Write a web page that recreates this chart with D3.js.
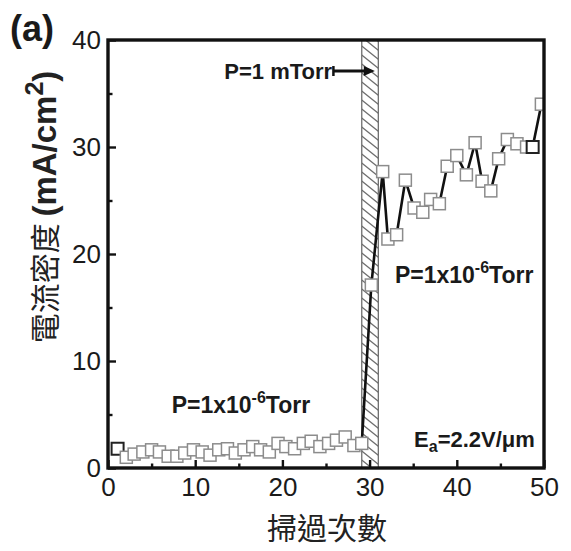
<!DOCTYPE html>
<html>
<head>
<meta charset="utf-8">
<script src="https://cdn.jsdelivr.net/npm/d3@7"></script>
<style>
  html, body { margin: 0; padding: 0; background: #fff; }
  svg { display: block; }
</style>
</head>
<body>
<svg id="chart" width="571" height="551"></svg>
<script>
// ---- data ----
const sweepX = [1.1, 2.1, 3.0, 4.0, 5.0, 5.9, 6.9, 7.9, 8.8, 9.8, 10.8, 11.7, 12.7, 13.7, 14.6,
  15.6, 16.6, 17.5, 18.5, 19.5, 20.4, 21.4, 22.4, 23.3, 24.3, 25.3, 26.2, 27.2, 28.2, 29.1,
  30.2, 31.5, 32.1, 33.1, 34.1, 35.1, 36.1, 37.0, 38.0, 38.9, 40.0, 41.1, 42.1, 42.9, 43.9,
  44.8, 45.8, 46.9, 48.0, 48.7, 49.7];
const currentDensity = [1.8, 1.0, 1.3, 1.5, 1.7, 1.5, 1.1, 1.1, 1.4, 1.7, 1.5, 1.2, 1.7, 1.8, 1.4,
  1.7, 2.0, 1.7, 1.5, 2.3, 2.0, 1.8, 2.3, 2.5, 2.0, 2.3, 2.6, 2.9, 2.1, 2.3,
  17.1, 27.7, 21.4, 21.8, 26.9, 24.3, 23.9, 25.1, 24.7, 28.2, 29.2, 27.4, 30.4, 26.8, 25.9,
  28.9, 30.7, 30.3, 30.0, 30.0, 34.0];
const xMajorTicks = [0, 10, 20, 30, 40, 50];
const xMinorTicks = [5, 15, 25, 35, 45];
const yMajorTicks = [0, 10, 20, 30, 40];
const yMinorTicks = [5, 15, 25, 35];
const xDomain = [0, 50];
const yDomain = [0, 40];
const ventBand = [29.1, 31.0];           // P = 1 mTorr interval (sweep number)
const panelLabel = "(a)";
const xTitle = "掃過次數";
const yTitleCJK = "電流密度";
const yTitleUnit = ["(mA/cm", "2", ")"];
const ventLabel = "P=1 mTorr";
const lowLabel = ["P=1x10", "-6", "Torr"];
const fieldLabel = ["E", "a", "=2.2V/\u03bcm"];

// ---- layout ----
const svg = d3.select("#chart");
const M = { left: 108, right: 544, top: 40, bottom: 468 };
const x = d3.scaleLinear().domain(xDomain).range([M.left, M.right]);
const y = d3.scaleLinear().domain(yDomain).range([M.bottom, M.top]);
const LATIN = "'Liberation Sans', Arial, Helvetica, sans-serif";
const CJK = "'Noto Sans CJK TC', 'Noto Sans CJK SC', sans-serif";

svg.append("rect").attr("width", 571).attr("height", 551).attr("fill", "#fff");

const defs = svg.append("defs");
defs.append("clipPath").attr("id", "plotclip").append("rect")
  .attr("x", M.left).attr("y", M.top).attr("width", M.right - M.left).attr("height", M.bottom - M.top);
const bx0 = x(ventBand[0]), bx1 = x(ventBand[1]);
defs.append("clipPath").attr("id", "bandclip").append("rect")
  .attr("x", bx0).attr("y", M.top).attr("width", bx1 - bx0).attr("height", M.bottom - M.top);

// ---- hatched band ----
const band = svg.append("g");
const hatch = band.append("g").attr("clip-path", "url(#bandclip)");
const bw = bx1 - bx0;
for (let yy = M.top - 30; yy < M.bottom + 10; yy += 9) {
  hatch.append("line")
    .attr("x1", bx0).attr("y1", yy).attr("x2", bx1).attr("y2", yy + bw * 0.8)
    .attr("stroke", "#6e6e6e").attr("stroke-width", 1.3);
}
band.append("rect").attr("x", bx0).attr("y", M.top).attr("width", bw).attr("height", M.bottom - M.top)
  .attr("fill", "none").attr("stroke", "#6e6e6e").attr("stroke-width", 1.3);

// ---- data line & squares ----
const pts = sweepX.map((v, i) => ({ x: v, y: currentDensity[i], i }));
const plot = svg.append("g").attr("clip-path", "url(#plotclip)");
plot.append("path").datum(pts)
  .attr("d", d3.line().x(d => x(d.x)).y(d => y(d.y)))
  .attr("fill", "none").attr("stroke", "#111").attr("stroke-width", 2.6);
const S = 12;
plot.selectAll("rect.pt").data(pts).join("rect").attr("class", "pt")
  .attr("x", d => x(d.x) - S / 2).attr("y", d => y(d.y) - S / 2)
  .attr("width", S).attr("height", S)
  .attr("fill", "#fff")
  .attr("stroke", d => (d.i === 0 || d.i === pts.length - 2) ? "#222" : "#8c8c8c")
  .attr("stroke-width", d => (d.i === 0 || d.i === pts.length - 2) ? 2 : 1.5);

// ---- axes ----
const axW = 3.4;
const gx = svg.append("g").attr("transform", `translate(0,${M.bottom})`)
  .call(d3.axisBottom(x).tickValues(xMajorTicks).tickSize(-8).tickPadding(10).tickFormat(d3.format("d")));
svg.append("g").attr("transform", `translate(0,${M.bottom})`)
  .call(d3.axisBottom(x).tickValues(xMinorTicks).tickSize(-4.5).tickFormat(""))
  .call(g => g.select(".domain").remove());
const gy = svg.append("g").attr("transform", `translate(${M.left},0)`)
  .call(d3.axisLeft(y).tickValues(yMajorTicks).tickSize(-8).tickPadding(7).tickFormat(d3.format("d")));
svg.append("g").attr("transform", `translate(${M.left},0)`)
  .call(d3.axisLeft(y).tickValues(yMinorTicks).tickSize(-4.5).tickFormat(""))
  .call(g => g.select(".domain").remove());
svg.selectAll(".tick line").attr("stroke", "#111").attr("stroke-width", 2.4);
svg.selectAll(".domain").remove();
svg.selectAll(".tick text").attr("font-family", LATIN).attr("font-size", 26).attr("fill", "#1a1a1a");
gx.selectAll(".tick text").attr("dy", "0.7em");

// frame
svg.append("rect").attr("x", M.left).attr("y", M.top).attr("width", M.right - M.left).attr("height", M.bottom - M.top)
  .attr("fill", "none").attr("stroke", "#111").attr("stroke-width", axW);

// ---- titles ----
svg.append("text").attr("x", 10).attr("y", 41)
  .attr("font-family", LATIN).attr("font-weight", "bold").attr("font-size", 36).attr("fill", "#1a1a1a")
  .text(panelLabel);

svg.append("text").attr("x", (M.left + M.right) / 2 + 1).attr("y", 539)
  .attr("text-anchor", "middle").attr("font-family", CJK).attr("font-size", 30).attr("fill", "#222")
  .text(xTitle);

const yt = svg.append("text").attr("transform", "translate(56,207) rotate(-90)")
  .attr("text-anchor", "middle").attr("fill", "#222");
yt.append("tspan").attr("font-family", CJK).attr("font-size", 30).text(yTitleCJK + " ");
yt.append("tspan").attr("font-family", LATIN).attr("font-size", 33).attr("font-weight", "bold").text(yTitleUnit[0]);
yt.append("tspan").attr("font-family", LATIN).attr("font-size", 25).attr("font-weight", "bold").attr("dy", -13).text(yTitleUnit[1]);
yt.append("tspan").attr("font-family", LATIN).attr("font-size", 33).attr("font-weight", "bold").attr("dy", 13).text(yTitleUnit[2]);

// ---- annotations ----
const ann = { font: LATIN, size: 22 };
svg.append("text").attr("x", x(25.7)).attr("y", y(36.4)).attr("text-anchor", "end")
  .attr("font-family", ann.font).attr("font-weight", "bold").attr("font-size", ann.size).attr("fill", "#1a1a1a")
  .text(ventLabel);
// arrow
const ay = y(37.1), ax0 = x(25.85), ax1 = x(30.6);
svg.append("line").attr("x1", ax0).attr("y1", ay).attr("x2", ax1 - 8).attr("y2", ay)
  .attr("stroke", "#111").attr("stroke-width", 3);
svg.append("line").attr("x1", ax0).attr("y1", ay - 5).attr("x2", ax0).attr("y2", ay + 5)
  .attr("stroke", "#111").attr("stroke-width", 2.5);
svg.append("path").attr("d", `M${ax1},${ay} L${ax1 - 11},${ay - 5} L${ax1 - 11},${ay + 5} Z`).attr("fill", "#111");

function pressureLabel(px, py) {
  const t = svg.append("text").attr("x", x(px)).attr("y", y(py))
    .attr("font-family", ann.font).attr("font-weight", "bold").attr("font-size", 23).attr("fill", "#1a1a1a");
  t.append("tspan").text(lowLabel[0]);
  t.append("tspan").attr("font-size", 16).attr("dy", -10).text(lowLabel[1]);
  t.append("tspan").attr("dy", 10).text(lowLabel[2]);
}
pressureLabel(7.3, 5.1);
pressureLabel(32.9, 17.3);

const ft = svg.append("text").attr("x", x(35.1)).attr("y", y(2.0))
  .attr("font-family", ann.font).attr("font-weight", "bold").attr("font-size", 22).attr("fill", "#1a1a1a");
ft.append("tspan").text(fieldLabel[0]);
ft.append("tspan").attr("font-size", 16).attr("dy", 5).text(fieldLabel[1]);
ft.append("tspan").attr("dy", -5).text(fieldLabel[2]);
</script>
</body>
</html>
